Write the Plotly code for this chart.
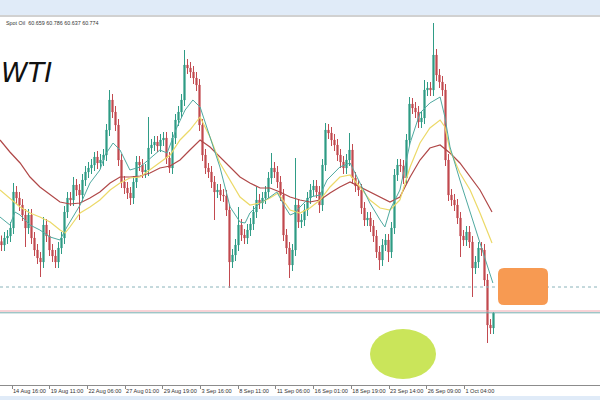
import plotly.graph_objects as go

# ---------------- data (prices, USD/bbl) ----------------
open_ = [62.20,62.13,62.27,62.31,62.47,63.19,63.07,62.93,62.73,62.47,62.73,62.27,62.03,61.87,61.79,62.53,62.31,62.03,61.91,61.79,
         62.07,62.27,62.79,63.07,63.03,63.33,63.23,63.13,63.43,63.59,63.67,63.73,63.89,63.77,63.83,63.93,64.43,65.03,64.79,64.53,
         63.83,63.39,63.27,63.17,63.07,63.39,63.79,63.73,63.59,63.63,64.07,64.13,64.19,64.11,64.23,64.27,63.87,63.67,64.27,64.63,
         64.79,65.03,65.73,65.67,65.59,65.47,65.33,64.53,63.93,63.67,63.59,63.39,63.19,63.23,63.13,63.11,62.83,61.79,61.93,62.13,
         62.53,62.33,62.27,62.43,62.55,62.79,63.03,62.97,63.07,63.19,63.47,63.67,63.59,63.39,63.13,62.33,62.07,61.73,62.03,62.93,
         62.59,62.63,62.83,63.07,63.23,63.31,63.19,62.93,63.73,64.43,64.37,64.23,64.13,63.93,63.79,63.67,63.83,64.03,63.47,63.31,
         63.23,62.87,62.63,62.67,62.51,62.31,61.99,61.83,62.13,62.23,61.99,62.47,63.53,63.73,63.71,63.47,64.23,64.95,64.87,64.79,
         64.59,64.67,65.23,65.27,65.23,65.93,65.53,65.39,65.23,63.83,63.13,63.03,62.93,62.67,62.31,62.23,62.39,62.19,61.67,61.79,
         62.07,62.03,61.43,60.53,60.47]
high = [62.32,62.39,62.43,62.59,63.37,63.31,63.19,63.05,62.85,62.85,62.85,62.39,62.15,61.99,62.69,62.65,62.43,62.15,62.03,62.19,
        62.39,62.91,63.19,63.19,63.49,63.45,63.35,63.55,63.71,63.79,63.85,63.99,64.01,63.95,64.05,64.55,65.23,65.15,64.91,64.65,
        63.95,63.51,63.39,63.29,63.51,63.91,63.91,63.85,63.75,64.69,64.25,64.31,64.31,64.35,64.39,64.39,63.99,64.39,64.75,64.91,
        65.15,66.03,65.85,65.79,65.71,65.59,65.45,64.65,64.05,63.77,63.71,63.51,63.35,63.35,63.25,63.23,62.95,62.05,62.25,62.89,
        62.65,62.45,62.55,62.67,62.91,63.29,63.15,63.19,63.31,63.59,63.97,63.79,63.71,63.51,63.25,62.45,62.19,62.15,63.87,63.05,
        62.75,62.95,63.19,63.35,63.43,63.43,63.31,63.85,64.57,64.55,64.49,64.35,64.25,64.05,63.91,63.95,64.37,64.15,63.59,63.43,
        63.35,62.99,62.79,62.79,62.63,62.43,62.11,62.25,62.35,62.35,62.59,63.65,63.85,63.85,63.83,64.35,65.09,65.07,64.99,64.91,
        64.79,65.43,65.39,65.39,66.57,66.05,65.65,65.51,65.35,63.95,63.25,63.15,63.05,62.79,62.43,62.51,62.51,62.31,61.91,62.19,
        62.19,62.15,61.55,60.65,60.79]
low = [62.01,62.01,62.15,62.19,62.35,62.95,62.81,62.61,62.09,62.35,62.15,61.91,61.75,61.49,61.67,62.19,61.91,61.79,61.67,61.67,
       61.95,62.15,62.67,62.91,62.91,63.11,62.63,63.01,63.31,63.47,63.55,63.61,63.65,63.65,63.71,63.81,64.31,64.67,64.41,63.71,
       63.27,63.15,63.05,62.93,62.95,63.27,63.61,63.47,63.47,63.51,63.95,64.01,63.99,63.99,64.11,63.75,63.57,63.55,64.15,64.51,
       64.67,64.91,65.55,65.47,65.35,65.21,64.41,63.81,63.55,63.47,63.27,62.63,63.07,63.01,62.99,62.71,61.27,61.67,61.81,62.01,
       62.21,62.15,62.15,62.31,62.43,62.67,62.85,62.85,62.95,63.07,63.35,63.47,63.27,63.01,62.21,61.95,61.47,61.61,61.91,62.47,
       62.47,62.51,62.71,62.95,63.11,63.07,62.77,62.81,63.61,64.25,64.11,64.01,63.81,63.67,63.55,63.55,63.71,63.35,63.19,63.11,
       62.75,62.51,62.51,62.39,62.19,61.87,61.63,61.71,62.01,61.79,61.87,62.35,63.41,63.59,63.35,63.35,64.11,64.75,64.67,64.47,
       64.47,64.55,65.11,65.11,65.11,65.41,65.27,65.11,63.71,63.01,62.91,62.81,62.55,61.89,62.11,62.11,62.07,61.09,61.55,61.67,
       61.91,61.31,60.17,60.35,60.35]
close = [62.13,62.27,62.31,62.47,63.19,63.07,62.93,62.73,62.47,62.73,62.27,62.03,61.87,61.79,62.53,62.31,62.03,61.91,61.79,62.07,
         62.27,62.79,63.07,63.03,63.33,63.23,63.13,63.43,63.59,63.67,63.73,63.89,63.77,63.83,63.93,64.43,65.03,64.79,64.53,63.83,
         63.39,63.27,63.17,63.07,63.39,63.79,63.73,63.59,63.63,64.07,64.13,64.19,64.11,64.23,64.27,63.87,63.67,64.27,64.63,64.79,
         65.03,65.73,65.67,65.59,65.47,65.33,64.53,63.93,63.67,63.59,63.39,63.19,63.23,63.13,63.11,62.83,61.79,61.93,62.13,62.53,
         62.33,62.27,62.43,62.55,62.79,63.03,62.97,63.07,63.19,63.47,63.67,63.59,63.39,63.13,62.33,62.07,61.73,62.03,62.93,62.59,
         62.63,62.83,63.07,63.23,63.31,63.19,62.93,63.73,64.43,64.37,64.23,64.13,63.93,63.79,63.67,63.83,64.03,63.47,63.31,63.23,
         62.87,62.63,62.67,62.51,62.31,61.99,61.83,62.13,62.23,61.99,62.47,63.53,63.73,63.71,63.47,64.23,64.95,64.87,64.79,64.59,
         64.67,65.23,65.27,65.23,65.93,65.53,65.39,65.23,63.83,63.13,63.03,62.93,62.67,62.31,62.23,62.39,62.19,61.67,61.79,62.07,
         62.03,61.43,60.53,60.47,60.77]

# moving averages (position in bar units, price)
ma_slow_x = [0,3.3,6.7,10,13.3,16.7,20,23.3,26.7,30,33.3,36.7,40,43.3,46.7,50,53.3,56.7,60,63.3,66.7,70,73.3,76.7,80,83.3,
             86.7,90,93.3,96.7,100,103.3,106.7,110,113.3,116.7,120,123.3,126.7,130,133.3,136.7,140,143.3,146.7,150,153.3,156.7,160,164]
ma_slow = [64.23,63.99,63.77,63.49,63.29,63.13,62.99,62.95,62.97,63.07,63.19,63.37,63.49,63.49,63.51,63.57,63.67,63.71,63.83,64.03,
           64.23,64.09,63.89,63.69,63.49,63.37,63.27,63.27,63.19,63.09,63.03,62.99,63.03,63.17,63.29,63.39,63.29,63.19,63.09,62.99,
           63.09,63.49,63.83,64.07,64.13,63.97,63.77,63.49,63.23,62.79]
ma_mid_x = [0,3.3,6.7,10,13.3,16.7,20,21.7,23.3,26.7,30,33.3,36.7,40,43.3,46.7,50,53.3,56.7,60,63.3,66.7,70,73.3,76.7,80,83.3,
            86.7,90,92.7,95,96.7,100,103.3,106.7,110,113.3,116.7,120,123.3,126.7,130,133.3,136.7,140,143.3,146.7,148.3,150,153.3,
            156.7,160,164]
ma_mid = [63.23,63.07,62.89,62.77,62.69,62.59,62.43,62.37,62.49,62.77,62.89,63.03,63.23,63.37,63.47,63.49,63.63,63.77,63.93,64.23,
          64.43,64.69,64.29,63.77,63.43,63.09,62.93,62.97,63.07,63.17,62.97,62.83,62.77,62.87,63.03,63.29,63.49,63.53,63.29,63.03,
          62.87,62.83,63.03,63.69,64.17,64.47,64.63,64.49,64.03,63.57,63.23,62.77,62.17]
ma_fast_x = [0,3.3,5,6.7,10,13.3,16.7,20,22.3,26.7,30,33.3,35,37.7,40,43.3,46.7,50,53.3,55.7,59,61.7,64.3,66.7,70,73.3,75,76.7,
             80,81.7,83.3,86.7,90,92.3,95,96.7,98.3,100,103.3,106.7,109,113.3,116.7,120,123.3,126.7,128.3,130,133.3,136.7,140,
             143.3,146.7,148.3,150,153.3,156.7,160,164.3]
ma_fast = [62.69,62.53,62.79,62.73,62.53,62.43,62.29,62.23,62.49,62.93,63.37,63.63,63.93,64.17,64.03,63.63,63.69,63.87,64.03,63.97,
           64.49,64.83,65.03,64.89,64.29,63.69,63.29,62.89,62.59,62.57,62.77,62.97,63.09,63.19,62.89,62.73,62.77,62.89,63.09,63.13,
           63.43,63.69,63.77,63.37,62.97,62.63,62.49,62.83,63.23,64.17,64.77,64.97,65.09,64.69,64.09,63.43,62.77,62.17,61.37]

bid_price = 60.774
ask_price = 60.81
dotted_level = 61.29
header_text = "Spot Oil  60.659 60.786 60.637 60.774"
tick_pos = [4.0,16.57,29.13,41.7,54.27,66.83,79.4,91.97,104.53,117.1,129.67,142.23,154.8]
tick_text = ["14 Aug 16:00","19 Aug 11:00","22 Aug 06:00","27 Aug 01:00","29 Aug 19:00","3 Sep 16:00",
             "8 Sep 11:00","11 Sep 06:00","16 Sep 01:00","18 Sep 19:00","23 Sep 14:00","26 Sep 09:00","1 Oct 04:00"]

# ---------------- figure ----------------
W, H = 600, 400
TOP, BOT = 17, 385          # plot area in pixels
def px(x):  return x / W
def py(y):  return (BOT - y) / (BOT - TOP)

bar_x = [i + 0.5 for i in range(len(close))]

fig = go.Figure()
fig.add_trace(go.Candlestick(
    x=bar_x, open=open_, high=high, low=low, close=close,
    increasing=dict(line=dict(color="#2f9c86", width=1), fillcolor="#2f9c86"),
    decreasing=dict(line=dict(color="#c24a50", width=1), fillcolor="#c24a50"),
    whiskerwidth=0, showlegend=False, hoverinfo="skip"))
fig.add_trace(go.Scatter(x=ma_slow_x, y=ma_slow, mode="lines", line=dict(color="#b04848", width=1.2),
                         showlegend=False, hoverinfo="skip"))
fig.add_trace(go.Scatter(x=ma_mid_x, y=ma_mid, mode="lines", line=dict(color="#ecd968", width=1.2),
                         showlegend=False, hoverinfo="skip"))
fig.add_trace(go.Scatter(x=ma_fast_x, y=ma_fast, mode="lines", line=dict(color="#4fa9a0", width=1),
                         showlegend=False, hoverinfo="skip"))

shapes = []
# top and bottom light-blue bands + border
shapes.append(dict(type="rect", xref="paper", yref="paper", x0=0, x1=1, y0=py(15), y1=py(0),
                   fillcolor="#e0ebf8", line=dict(width=0), layer="below"))
shapes.append(dict(type="line", xref="paper", yref="paper", x0=0, x1=1, y0=py(16), y1=py(16),
                   line=dict(color="#a3a3a3", width=1)))
shapes.append(dict(type="rect", xref="paper", yref="paper", x0=0, x1=1, y0=py(400), y1=py(396),
                   fillcolor="#e0ebf8", line=dict(width=0), layer="below"))
# price level lines
shapes.append(dict(type="line", xref="paper", yref="y", x0=0, x1=1, y0=dotted_level, y1=dotted_level,
                   line=dict(color="#8ab3ba", width=1, dash="dot")))
shapes.append(dict(type="line", xref="paper", yref="y", x0=0, x1=1, y0=ask_price, y1=ask_price,
                   line=dict(color="#f0a6ae", width=1)))
shapes.append(dict(type="line", xref="paper", yref="y", x0=0, x1=1, y0=bid_price, y1=bid_price,
                   line=dict(color="#76aeb0", width=1)))
# green ellipse
shapes.append(dict(type="circle", xref="paper", yref="paper", x0=px(370), x1=px(436), y0=py(379), y1=py(329),
                   fillcolor="#cae55a", line=dict(width=0)))
# orange rounded rectangle
def rounded(x0, y0, x1, y1, r):
    X0, X1, Y0, Y1 = px(x0), px(x1), py(y0), py(y1)
    rx, ry = r / W, r / (BOT - TOP)
    return (f"M {X0+rx},{Y0} L {X1-rx},{Y0} Q {X1},{Y0} {X1},{Y0-ry} "
            f"L {X1},{Y1+ry} Q {X1},{Y1} {X1-rx},{Y1} L {X0+rx},{Y1} Q {X0},{Y1} {X0},{Y1+ry} "
            f"L {X0},{Y0-ry} Q {X0},{Y0} {X0+rx},{Y0} Z")
shapes.append(dict(type="path", xref="paper", yref="paper", path=rounded(498, 268, 548, 305, 6),
                   fillcolor="#f79a52", line=dict(width=0)))

annotations = [
    dict(text=header_text, xref="paper", yref="paper", x=px(4), y=py(23), xanchor="left", yanchor="middle",
         showarrow=False, font=dict(family="Liberation Sans", size=5.4, color="#333333")),
    dict(text="<i>WTI</i>", xref="paper", yref="paper", x=px(-1), y=py(72), xanchor="left", yanchor="middle",
         showarrow=False, font=dict(family="DejaVu Sans", size=27, color="#111111")),
]

fig.update_layout(
    width=W, height=H, margin=dict(l=0, r=0, t=TOP, b=H - BOT),
    paper_bgcolor="white", plot_bgcolor="white", boxgap=0.45,
    shapes=shapes, annotations=annotations,
    xaxis=dict(range=[0, W / 3], rangeslider=dict(visible=False), showgrid=False, zeroline=False,
               tickmode="array", tickvals=tick_pos, ticktext=tick_text, tickangle=0,
               ticks="outside", ticklen=3, tickcolor="#888888", ticklabelposition="outside right",
               tickfont=dict(family="Liberation Sans", size=5.6, color="#333333"),
               showline=True, linecolor="#8c8c8c", linewidth=1),
    yaxis=dict(range=[59.33, 66.69], showgrid=False, zeroline=False, showticklabels=False, ticks=""),
)

fig.write_html("out.html", config={"displayModeBar": False},
               post_script="document.body.style.margin='0';document.body.style.overflow='hidden';")
